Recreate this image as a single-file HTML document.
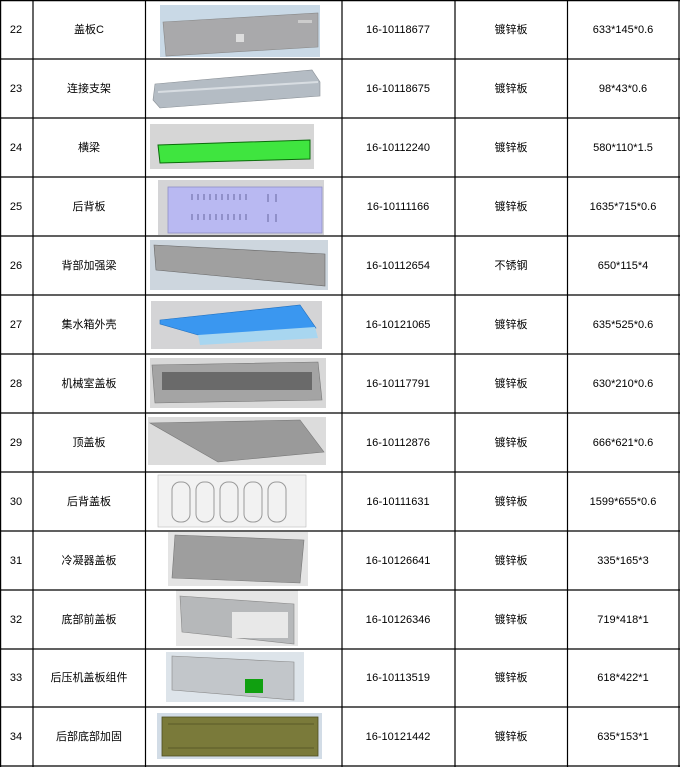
<!DOCTYPE html>
<html><head><meta charset="utf-8"><style>
html,body{margin:0;padding:0;background:#fff;}
svg{display:block}
text{font-family:"Liberation Sans","Noto Sans CJK SC",sans-serif;font-size:11px;fill:#000;text-anchor:middle;dominant-baseline:central}
</style></head><body>
<svg width="680" height="767" viewBox="0 0 680 767" xmlns="http://www.w3.org/2000/svg">
<rect width="680" height="767" fill="#fff"/>
<!-- images -->
<g>
<!-- 22 -->
<rect x="160" y="5" width="160" height="52" fill="#c9d9e6"/>
<polygon points="163,22 318,13 318,47 166,56" fill="#a9a9ab" stroke="#888" stroke-width="0.6"/>
<rect x="236" y="34" width="8" height="8" fill="#ddd"/>
<rect x="298" y="20" width="14" height="3" fill="#ccc"/>
<!-- 23 -->
<polygon points="155,84 312,70 320,82 320,96 160,108 153,100" fill="#b4bcc4" stroke="#8a9096" stroke-width="0.6"/>
<line x1="158" y1="92" x2="318" y2="82" stroke="#d8dde2" stroke-width="2"/>
<!-- 24 -->
<rect x="150" y="124" width="164" height="45" fill="#d6d6d6"/>
<polygon points="158,145 310,140 310,159 160,163" fill="#3fe53f" stroke="#0a6a0a" stroke-width="1"/>
<!-- 25 -->
<rect x="158" y="180" width="166" height="55" fill="#d4d4d6"/>
<rect x="168" y="187" width="154" height="46" fill="#b9b9f2" stroke="#8f8fc6" stroke-width="0.8"/>
<g stroke="#6868a0" stroke-width="1">
<path d="M192,194v6M198,194v6M204,194v6M210,194v6M216,194v6M222,194v6M228,194v6M234,194v6M240,194v6M246,194v6M268,194v8M276,194v8M192,214v6M198,214v6M204,214v6M210,214v6M216,214v6M222,214v6M228,214v6M234,214v6M240,214v6M246,214v6M268,214v8M276,214v8"/>
</g>
<!-- 26 -->
<rect x="150" y="240" width="178" height="50" fill="#cdd6de"/>
<polygon points="154,245 325,254 325,286 156,270" fill="#a0a0a0" stroke="#666" stroke-width="0.6"/>
<!-- 27 -->
<rect x="151" y="301" width="171" height="48" fill="#d4d4d6"/>
<polygon points="160,320 300,305 316,328 205,337 160,324" fill="#3a97f0" stroke="#1e6fc0" stroke-width="0.6"/>
<polygon points="198,335 315,327 318,338 200,345" fill="#a8d6f0"/>
<!-- 28 -->
<rect x="150" y="358" width="176" height="50" fill="#d8d8d8"/>
<polygon points="152,365 318,362 322,400 155,403" fill="#a4a4a4" stroke="#777" stroke-width="0.6"/>
<rect x="162" y="372" width="150" height="18" fill="#6a6a6a"/>
<!-- 29 -->
<rect x="148" y="417" width="178" height="48" fill="#dcdcdc"/>
<polygon points="150,423 300,420 324,452 218,462" fill="#9a9a9a" stroke="#777" stroke-width="0.6"/>
<!-- 30 -->
<rect x="158" y="475" width="148" height="52" fill="#f2f2f2" stroke="#bbb" stroke-width="0.6"/>
<g fill="none" stroke="#999" stroke-width="1">
<rect x="172" y="482" width="18" height="40" rx="8"/><rect x="196" y="482" width="18" height="40" rx="8"/><rect x="220" y="482" width="18" height="40" rx="8"/><rect x="244" y="482" width="18" height="40" rx="8"/><rect x="268" y="482" width="18" height="40" rx="8"/></g>
<!-- 31 -->
<rect x="168" y="532" width="140" height="54" fill="#e4e4e4"/>
<polygon points="175,535 304,540 300,583 172,578" fill="#9e9e9e" stroke="#777" stroke-width="0.6"/>
<!-- 32 -->
<rect x="176" y="590" width="122" height="56" fill="#e6e6e6"/>
<polygon points="180,596 294,604 294,644 182,632" fill="#b6b8ba" stroke="#888" stroke-width="0.6"/>
<rect x="232" y="612" width="56" height="26" fill="#e8e8e8"/>
<!-- 33 -->
<rect x="166" y="652" width="138" height="50" fill="#dde4ea"/>
<polygon points="172,656 294,662 294,700 172,690" fill="#c2c6ca" stroke="#888" stroke-width="0.6"/>
<rect x="245" y="679" width="18" height="14" fill="#10a010"/>
<!-- 34 -->
<rect x="157" y="713" width="165" height="46" fill="#d2dce6"/>
<rect x="162" y="717" width="156" height="39" fill="#7a7a3a" stroke="#4e4e20" stroke-width="0.8"/>
<line x1="168" y1="724" x2="314" y2="724" stroke="#5a5a28"/>
<line x1="168" y1="748" x2="314" y2="748" stroke="#5a5a28"/>
</g>
<!-- grid -->
<g stroke="#000" stroke-width="1.2">
<line x1="0.6" y1="0" x2="0.6" y2="767"/>
<line x1="33" y1="0" x2="33" y2="767"/>
<line x1="145.5" y1="0" x2="145.5" y2="767"/>
<line x1="342" y1="0" x2="342" y2="767"/>
<line x1="455" y1="0" x2="455" y2="767"/>
<line x1="567.5" y1="0" x2="567.5" y2="767"/>
<line x1="679" y1="0" x2="679" y2="767"/>
<line x1="0" y1="0.6" x2="680" y2="0.6"/>
<line x1="0" y1="59" x2="680" y2="59"/><line x1="0" y1="118" x2="680" y2="118"/><line x1="0" y1="177" x2="680" y2="177"/><line x1="0" y1="236" x2="680" y2="236"/><line x1="0" y1="295" x2="680" y2="295"/><line x1="0" y1="354" x2="680" y2="354"/><line x1="0" y1="413" x2="680" y2="413"/><line x1="0" y1="472" x2="680" y2="472"/><line x1="0" y1="531" x2="680" y2="531"/><line x1="0" y1="590" x2="680" y2="590"/><line x1="0" y1="649" x2="680" y2="649"/><line x1="0" y1="707" x2="680" y2="707"/><line x1="0" y1="766" x2="680" y2="766"/>
</g>
<!-- text -->
<g>
<text x="16" y="30">22</text><text x="89" y="30">盖板C</text><text x="398" y="30">16-10118677</text><text x="511" y="30">镀锌板</text><text x="623" y="30">633*145*0.6</text>
<text x="16" y="89">23</text><text x="89" y="89">连接支架</text><text x="398" y="89">16-10118675</text><text x="511" y="89">镀锌板</text><text x="623" y="89">98*43*0.6</text>
<text x="16" y="148">24</text><text x="89" y="148">横梁</text><text x="398" y="148">16-10112240</text><text x="511" y="148">镀锌板</text><text x="623" y="148">580*110*1.5</text>
<text x="16" y="207">25</text><text x="89" y="207">后背板</text><text x="398" y="207">16-10111166</text><text x="511" y="207">镀锌板</text><text x="623" y="207">1635*715*0.6</text>
<text x="16" y="266">26</text><text x="89" y="266">背部加强梁</text><text x="398" y="266">16-10112654</text><text x="511" y="266">不锈钢</text><text x="623" y="266">650*115*4</text>
<text x="16" y="325">27</text><text x="89" y="325">集水箱外壳</text><text x="398" y="325">16-10121065</text><text x="511" y="325">镀锌板</text><text x="623" y="325">635*525*0.6</text>
<text x="16" y="384">28</text><text x="89" y="384">机械室盖板</text><text x="398" y="384">16-10117791</text><text x="511" y="384">镀锌板</text><text x="623" y="384">630*210*0.6</text>
<text x="16" y="443">29</text><text x="89" y="443">顶盖板</text><text x="398" y="443">16-10112876</text><text x="511" y="443">镀锌板</text><text x="623" y="443">666*621*0.6</text>
<text x="16" y="502">30</text><text x="89" y="502">后背盖板</text><text x="398" y="502">16-10111631</text><text x="511" y="502">镀锌板</text><text x="623" y="502">1599*655*0.6</text>
<text x="16" y="561">31</text><text x="89" y="561">冷凝器盖板</text><text x="398" y="561">16-10126641</text><text x="511" y="561">镀锌板</text><text x="623" y="561">335*165*3</text>
<text x="16" y="620">32</text><text x="89" y="620">底部前盖板</text><text x="398" y="620">16-10126346</text><text x="511" y="620">镀锌板</text><text x="623" y="620">719*418*1</text>
<text x="16" y="678">33</text><text x="89" y="678">后压机盖板组件</text><text x="398" y="678">16-10113519</text><text x="511" y="678">镀锌板</text><text x="623" y="678">618*422*1</text>
<text x="16" y="737">34</text><text x="89" y="737">后部底部加固</text><text x="398" y="737">16-10121442</text><text x="511" y="737">镀锌板</text><text x="623" y="737">635*153*1</text>
</g>
</svg>
</body></html>
